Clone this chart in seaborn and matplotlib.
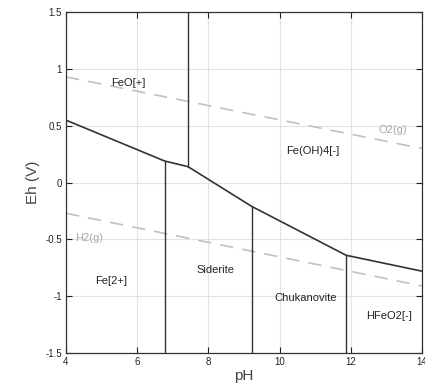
import numpy as np
import pandas as pd
import seaborn as sns
import matplotlib.pyplot as plt
from matplotlib.ticker import FormatStrFormatter

# stability field boundaries (pH, Eh)
boundary_ph = [4.0, 6.77, 7.43, 9.22, 11.87, 14.0]
boundary_eh = [0.55, 0.19, 0.14, -0.21, -0.64, -0.78]

# vertical boundaries: pH, Eh bottom, Eh top
vert_ph = [7.43, 6.77, 9.22, 11.87]
vert_lo = [0.14, -1.5, -1.5, -1.5]
vert_hi = [1.5, 0.19, -0.21, -0.64]

# water stability lines
water_ph = [4.0, 14.0]
o2_eh = [0.93, 0.30]
h2_eh = [-0.27, -0.91]

# field labels
labels = ["FeO[+]", "Fe(OH)4[-]", "Fe[2+]", "Siderite", "Chukanovite", "HFeO2[-]"]
label_ph = [5.75, 10.93, 5.27, 8.2, 10.73, 13.07]
label_eh = [0.88, 0.28, -0.87, -0.77, -1.02, -1.17]

gas_labels = ["O2(g)", "H2(g)"]
gas_ph = [13.18, 4.65]
gas_eh = [0.46, -0.49]

sns.set_theme(style="white")
plt.rcParams['font.family'] = ['Liberation Sans', 'DejaVu Sans']

fig = plt.figure(figsize=(4.25, 3.92), dpi=100)
ax = fig.add_axes([0.155, 0.0995, 0.838, 0.8695])

line_col = "#333333"
dash = (0, (8, 5.5))
sns.lineplot(x=water_ph, y=o2_eh, ax=ax, color="#c0c0c0", lw=1.2, linestyle=dash, estimator=None)
sns.lineplot(x=water_ph, y=h2_eh, ax=ax, color="#c0c0c0", lw=1.2, linestyle=dash, estimator=None)
sns.lineplot(x=boundary_ph, y=boundary_eh, ax=ax, color=line_col, lw=1.2, sort=False, estimator=None)
for p, lo, hi in zip(vert_ph, vert_lo, vert_hi):
    sns.lineplot(x=[p, p], y=[lo, hi], ax=ax, color=line_col, lw=1.0, sort=False, estimator=None)

for t, x, y in zip(labels, label_ph, label_eh):
    ax.text(x, y, t, ha="center", va="center", fontsize=8, color="#222222")
for t, x, y in zip(gas_labels, gas_ph, gas_eh):
    ax.text(x, y, t, ha="center", va="center", fontsize=8, color="#aaaaaa")

ax.set_xlim(4, 14)
ax.set_ylim(-1.5, 1.5)
ax.set_xticks([4, 6, 8, 10, 12, 14])
ax.set_yticks([-1.5, -1, -0.5, 0, 0.5, 1, 1.5])
ax.xaxis.set_major_formatter(FormatStrFormatter("%g"))
ax.yaxis.set_major_formatter(FormatStrFormatter("%g"))
ax.grid(True, color="#e3e3e3", lw=0.8)
ax.tick_params(direction="in", length=4, width=0.8, colors="#222222", labelsize=7,
               top=True, right=True, bottom=True, left=True, pad=3)
for s in ax.spines.values():
    s.set_color("#333333")
    s.set_linewidth(0.9)
ax.set_xlabel("pH", fontsize=11, color="#444444", labelpad=1)
ax.set_ylabel("Eh (V)", fontsize=11, color="#444444", labelpad=4)

fig.savefig("out.png", dpi=100)
